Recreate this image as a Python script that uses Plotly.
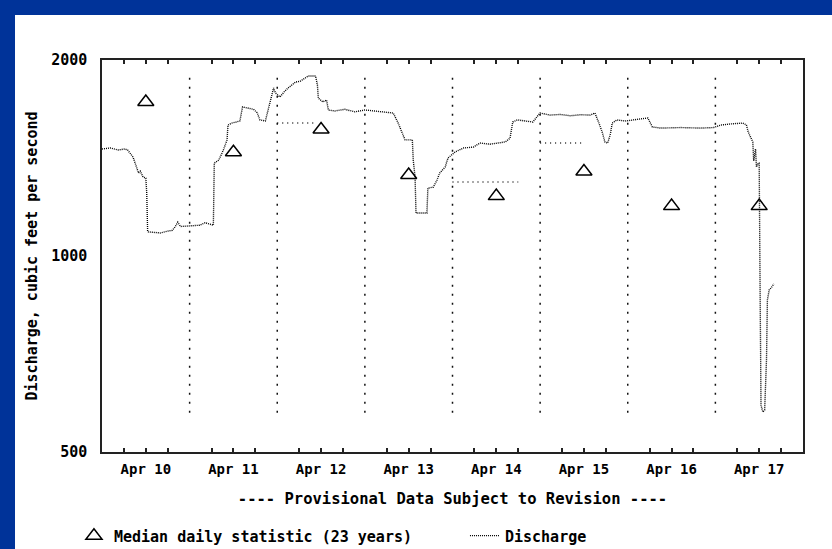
import plotly.graph_objects as go

# ---------------- data ----------------
median_days = ["2009-04-10 12:00", "2009-04-11 12:00", "2009-04-12 12:00", "2009-04-13 12:00",
               "2009-04-14 12:00", "2009-04-15 12:00", "2009-04-16 12:00", "2009-04-17 12:00"]
median_values = [1724, 1443, 1564, 1332, 1236, 1348, 1193, 1193]

q_times = [
    "2009-04-10 00:00", "2009-04-10 02:15", "2009-04-10 04:30", "2009-04-10 06:15", "2009-04-10 07:00",
    "2009-04-10 08:30", "2009-04-10 09:15", "2009-04-10 10:00", "2009-04-10 10:30", "2009-04-10 11:15",
    "2009-04-10 12:00", "2009-04-10 12:15", "2009-04-10 12:30", "2009-04-10 16:00", "2009-04-10 18:00",
    "2009-04-10 19:15", "2009-04-10 20:00", "2009-04-10 20:45", "2009-04-10 21:30",
    "2009-04-11 00:00", "2009-04-11 02:45", "2009-04-11 04:15", "2009-04-11 05:30", "2009-04-11 06:30",
    "2009-04-11 06:45", "2009-04-11 08:00", "2009-04-11 09:15", "2009-04-11 10:15", "2009-04-11 10:30",
    "2009-04-11 11:30", "2009-04-11 12:45", "2009-04-11 13:45", "2009-04-11 14:30", "2009-04-11 15:45",
    "2009-04-11 17:30", "2009-04-11 18:30", "2009-04-11 19:15", "2009-04-11 20:45", "2009-04-11 21:30",
    "2009-04-11 22:15", "2009-04-11 23:00", "2009-04-11 23:30",
    "2009-04-12 00:45", "2009-04-12 02:00", "2009-04-12 03:00", "2009-04-12 05:00", "2009-04-12 06:15",
    "2009-04-12 08:30", "2009-04-12 10:30", "2009-04-12 11:00", "2009-04-12 11:15", "2009-04-12 12:30",
    "2009-04-12 13:30", "2009-04-12 14:00", "2009-04-12 15:45", "2009-04-12 18:30", "2009-04-12 21:15",
    "2009-04-13 00:00", "2009-04-13 02:45", "2009-04-13 06:30", "2009-04-13 07:45", "2009-04-13 09:00",
    "2009-04-13 10:15", "2009-04-13 11:00", "2009-04-13 13:00", "2009-04-13 13:15", "2009-04-13 13:45",
    "2009-04-13 14:00", "2009-04-13 17:00", "2009-04-13 17:15", "2009-04-13 18:45", "2009-04-13 19:45",
    "2009-04-13 20:30", "2009-04-13 22:00", "2009-04-13 22:45",
    "2009-04-14 00:45", "2009-04-14 03:00", "2009-04-14 05:45", "2009-04-14 07:30", "2009-04-14 10:15",
    "2009-04-14 14:30", "2009-04-14 15:45", "2009-04-14 16:30", "2009-04-14 17:45", "2009-04-14 20:00",
    "2009-04-14 22:00", "2009-04-14 23:30",
    "2009-04-15 00:00", "2009-04-15 02:45", "2009-04-15 05:30", "2009-04-15 08:15", "2009-04-15 11:00",
    "2009-04-15 13:45", "2009-04-15 15:00", "2009-04-15 16:00", "2009-04-15 17:00", "2009-04-15 17:45",
    "2009-04-15 18:30", "2009-04-15 19:15", "2009-04-15 19:45", "2009-04-15 21:00", "2009-04-15 23:15",
    "2009-04-16 01:30", "2009-04-16 03:30", "2009-04-16 05:30", "2009-04-16 06:45", "2009-04-16 09:00",
    "2009-04-16 14:30", "2009-04-16 20:00", "2009-04-16 23:30",
    "2009-04-17 01:30", "2009-04-17 04:00", "2009-04-17 07:30", "2009-04-17 08:30", "2009-04-17 09:00",
    "2009-04-17 10:15", "2009-04-17 10:30", "2009-04-17 11:00", "2009-04-17 11:15", "2009-04-17 11:45",
    "2009-04-17 12:00", "2009-04-17 12:15", "2009-04-17 12:30", "2009-04-17 13:00", "2009-04-17 13:30",
    "2009-04-17 14:00", "2009-04-17 14:15", "2009-04-17 14:45", "2009-04-17 15:15", "2009-04-17 16:00",
]
q_values = [
    1460, 1465, 1455, 1460, 1455,
    1419, 1380, 1341, 1350, 1322,
    1317, 1250, 1089, 1085, 1092,
    1095, 1108, 1127, 1110,
    1112, 1115, 1125, 1118, 1115,
    1389, 1404, 1455, 1508, 1589,
    1600, 1606, 1612, 1694, 1688,
    1680, 1660, 1618, 1612, 1680,
    1736, 1812, 1780,
    1755, 1790, 1812, 1850, 1855,
    1890, 1890, 1831, 1748, 1724,
    1736, 1676, 1670, 1680, 1665,
    1676, 1670, 1665, 1658, 1606,
    1550, 1508, 1508, 1404, 1322,
    1164, 1164, 1271, 1276, 1308,
    1341, 1370, 1414,
    1445, 1465, 1470, 1491, 1485,
    1497, 1517, 1606, 1618, 1612,
    1606, 1646,
    1658, 1646, 1650, 1642, 1648,
    1646, 1658, 1606, 1550, 1497,
    1491, 1540, 1600, 1618, 1612,
    1618, 1625, 1629, 1578, 1572,
    1575, 1572, 1575,
    1589, 1595, 1600, 1590, 1550,
    1497, 1400, 1460, 1370, 1389,
    1389, 887, 590, 576, 580,
    692, 856, 887, 893, 906,
]

# short dotted horizontal segments seen in the plot
seg_starts = ["2009-04-12 00:00", "2009-04-14 00:00", "2009-04-15 00:00"]
seg_ends = ["2009-04-12 10:00", "2009-04-14 18:00", "2009-04-15 11:30"]
seg_values = [1600, 1299, 1491]

day_boundaries = ["2009-04-11", "2009-04-12", "2009-04-13", "2009-04-14",
                  "2009-04-15", "2009-04-16", "2009-04-17"]
label_days = ["10", "11", "12", "13", "14", "15", "16", "17"]

y_ticks = [500, 1000, 2000]

# ---------------- figure ----------------
FONT = "DejaVu Sans Mono"
fig = go.Figure()

for s, e, v in zip(seg_starts, seg_ends, seg_values):
    fig.add_trace(go.Scatter(x=[s, e], y=[v, v], mode="lines",
                             line=dict(color="#222222", width=1.5, dash="1px,4px"),
                             showlegend=False, hoverinfo="skip"))

fig.add_trace(go.Scatter(x=q_times, y=q_values, mode="lines", name="Discharge",
                         line=dict(color="#000000", width=1.4, dash="1px,1px"),
                         legendrank=2))

fig.add_trace(go.Scatter(x=median_days, y=median_values, mode="markers",
                         name="Median daily statistic (23 years)",
                         marker=dict(symbol="triangle-up-open", size=14, color="#000000",
                                     line=dict(width=1.5, color="#000000")),
                         legendrank=1))

# x ticks at 06, 12, 18 h of each day; labels only at noon
tickvals, ticktext = [], []
for d in label_days:
    for hh in ["06", "12", "18"]:
        tickvals.append(f"2009-04-{d} {hh}:00")
        ticktext.append(f"Apr {d}" if hh == "12" else "")

# white panel on a blue page (blue band only on top and left)
shapes = [dict(type="rect", xref="paper", yref="paper", x0=-0.1241, x1=1.1,
               y0=-0.4, y1=1.1148, fillcolor="white", line=dict(width=0), layer="below")]
for d in day_boundaries:
    shapes.append(dict(type="line", xref="x", yref="paper", x0=d, x1=d, y0=0.10, y1=0.962,
                       line=dict(color="#111111", width=1.5, dash="2px,7px")))

fig.update_layout(
    width=832, height=549,
    margin=dict(l=102, r=29, t=60, b=97, autoexpand=False),
    paper_bgcolor="#003399",
    plot_bgcolor="white",
    font=dict(family=FONT, size=14, color="black", weight="bold"),
    shapes=shapes,
    showlegend=True,
    legend=dict(orientation="h", x=-0.04, y=-0.172, xanchor="left", yanchor="top",
                font=dict(family=FONT, size=15, color="black", weight="bold"),
                bgcolor="rgba(0,0,0,0)", itemwidth=30, entrywidth=346),
    xaxis=dict(type="date", range=["2009-04-10", "2009-04-18"], automargin=False,
               tickmode="array", tickvals=tickvals, ticktext=ticktext,
               ticks="inside", ticklen=4, tickwidth=1.5, tickcolor="#222222",
               showline=True, linecolor="#222222", linewidth=1.5, mirror="allticks",
               showgrid=False, zeroline=False, ticklabelstandoff=3,
               tickfont=dict(family=FONT, size=14, color="black", weight="bold"),
               title=dict(text="---- Provisional Data Subject to Revision ----",
                          font=dict(family=FONT, size=15.5, color="black", weight="bold"),
                          standoff=18)),
    yaxis=dict(type="log", range=[2.69897, 3.30103], automargin=False,
               tickmode="array", tickvals=y_ticks, ticktext=[str(v) for v in y_ticks],
               ticks="", showline=True, linecolor="#222222", linewidth=1.5, mirror=True,
               showgrid=False, zeroline=False, ticklabelstandoff=10,
               tickfont=dict(family=FONT, size=15, color="black", weight="bold"),
               title=dict(text="Discharge, cubic feet per second",
                          font=dict(family=FONT, size=15, color="black", weight="bold"),
                          standoff=10)),
)

fig.write_html(
    "out.html",
    config={"displayModeBar": False},
    post_script=("document.body.style.margin='0';"
                 "document.body.style.overflow='hidden';"
                 "document.documentElement.style.overflow='hidden';"),
)
